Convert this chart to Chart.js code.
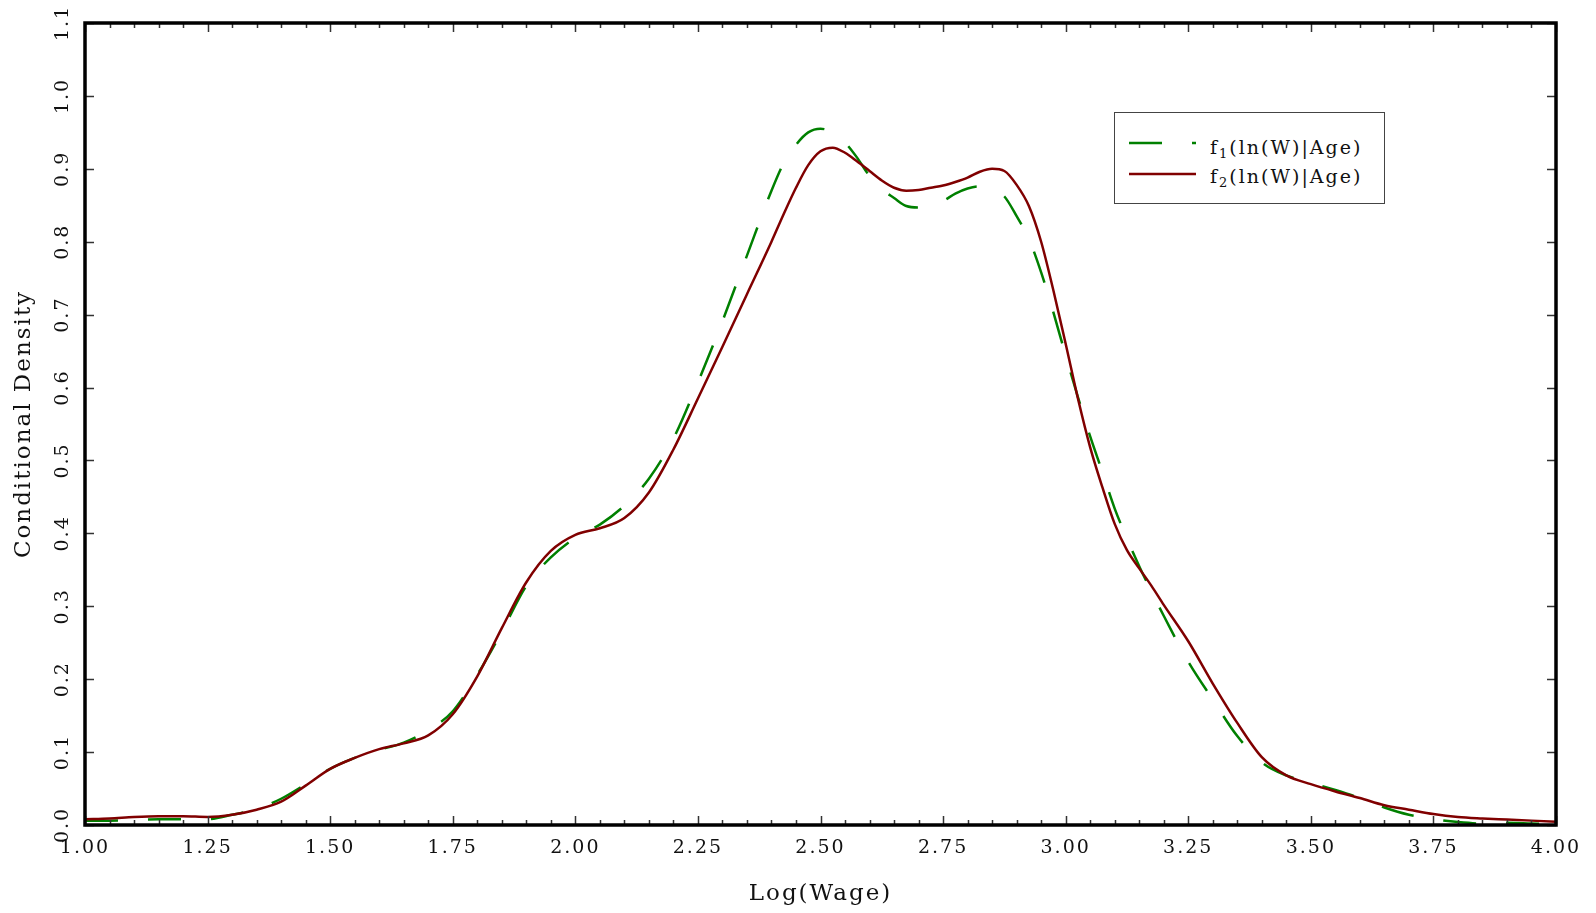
<!DOCTYPE html>
<html>
<head>
<meta charset="utf-8">
<script src="https://cdn.jsdelivr.net/npm/chart.js@4.4.0/dist/chart.umd.min.js"></script>
<style>
  html, body { margin: 0; padding: 0; background: #fff; }
  #wrap { position: relative; width: 1596px; height: 913px; }
  #legend {
    position: absolute; left: 1114px; top: 112px; width: 271px; height: 92px;
    border: 1px solid #444; background: #fff; box-sizing: border-box;
  }
  .item {
    position: absolute; left: 1210px; height: 20px; line-height: 20px;
    font-family: 'DejaVu Serif'; font-size: 19px; letter-spacing: 2px; color: #111;
    white-space: nowrap;
  }
  .item sub { font-size: 13px; vertical-align: -4px; line-height: 0; }
</style>
</head>
<body>
<div id="wrap">
  <canvas id="chart" width="1596" height="913"></canvas>
  <div id="legend"></div>
  <svg style="position:absolute;left:0;top:0" width="1596" height="913">
    <line x1="1129" y1="143" x2="1196" y2="143" stroke="#008000" stroke-width="2.5" stroke-dasharray="33 30"/>
    <line x1="1129" y1="174" x2="1196" y2="174" stroke="#800000" stroke-width="2.5"/>
  </svg>
  <div class="item" style="top:137px">f<sub>1</sub>(ln(W)|Age)</div>
  <div class="item" style="top:166px">f<sub>2</sub>(ln(W)|Age)</div>
</div>
<script>
// log wage grid (finer around the peaks)
const logWage = [
  1.00, 1.05, 1.10, 1.15, 1.20, 1.25, 1.30, 1.35, 1.40, 1.45,
  1.50, 1.55, 1.60, 1.65, 1.70, 1.75, 1.80, 1.85, 1.90, 1.95,
  2.00, 2.05, 2.10, 2.15, 2.20, 2.25, 2.30, 2.35, 2.40,
  2.425, 2.45, 2.475, 2.50, 2.525, 2.55, 2.575, 2.60, 2.625, 2.65,
  2.675, 2.70, 2.725, 2.75, 2.775, 2.80, 2.825, 2.85, 2.875, 2.90,
  2.925, 2.95, 2.975, 3.00, 3.025, 3.05, 3.075, 3.10, 3.125, 3.15,
  3.175, 3.20,
  3.25, 3.30, 3.35, 3.40, 3.45, 3.50, 3.55, 3.60, 3.65, 3.70,
  3.75, 3.80, 3.85, 3.90, 3.95, 4.00
];

// f1(ln(W)|Age) - green dashed
const f1 = [
  0.006, 0.006, 0.007, 0.008, 0.008, 0.008, 0.014, 0.022, 0.036, 0.056,
  0.077, 0.092, 0.103, 0.113, 0.130, 0.156, 0.206, 0.265, 0.328, 0.367,
  0.394, 0.412, 0.438, 0.475, 0.530, 0.607, 0.691, 0.781, 0.870,
  0.908, 0.933, 0.950, 0.955, 0.950, 0.936, 0.915, 0.890, 0.872, 0.860,
  0.849, 0.847, 0.850, 0.856, 0.866, 0.873, 0.876, 0.872, 0.862, 0.835,
  0.804, 0.758, 0.703, 0.644, 0.587, 0.533, 0.484, 0.434, 0.393, 0.355,
  0.320, 0.287,
  0.224, 0.172, 0.122, 0.086, 0.068, 0.058, 0.048, 0.037, 0.024, 0.014,
  0.008, 0.004, 0.002, 0.003, 0.002, 0.001
];

// f2(ln(W)|Age) - dark red solid
const f2 = [
  0.008, 0.009, 0.011, 0.012, 0.012, 0.011, 0.014, 0.021, 0.032, 0.054,
  0.077, 0.092, 0.104, 0.112, 0.123, 0.152, 0.204, 0.270, 0.333, 0.376,
  0.398, 0.407, 0.421, 0.456, 0.515, 0.585, 0.656, 0.728, 0.800,
  0.838, 0.874, 0.905, 0.924, 0.929, 0.922, 0.910, 0.897, 0.884, 0.874,
  0.870, 0.871, 0.874, 0.877, 0.882, 0.888, 0.896, 0.900, 0.897, 0.878,
  0.849, 0.800, 0.733, 0.660, 0.585, 0.518, 0.463, 0.413, 0.377, 0.352,
  0.328, 0.302,
  0.252, 0.194, 0.140, 0.093, 0.068, 0.056, 0.046, 0.037, 0.027, 0.021,
  0.015, 0.011, 0.009, 0.0075, 0.006, 0.0045
];

const FONT = 'DejaVu Serif';
const TEXT = '#111';

const isQuarter = v => Math.abs(v * 4 - Math.round(v * 4)) < 1e-6;
const pts = ys => logWage.map((x, i) => ({ x, y: ys[i] }));

// inward ticks on all four sides, heavy frame, rotated y labels
const framePlugin = {
  id: 'frame',
  beforeLayout(chart) { chart.ctx.letterSpacing = '2px'; },
  beforeDraw(chart) { chart.ctx.letterSpacing = '2px'; },
  afterDraw(chart) {
    const { ctx, chartArea: a, scales: { x, y } } = chart;
    ctx.save();
    ctx.strokeStyle = '#333';
    ctx.lineWidth = 1.5;
    ctx.beginPath();
    x.ticks.forEach(t => {
      const px = Math.round(x.getPixelForValue(t.value)) + 0.5;
      const len = isQuarter(t.value) ? 9 : 5;
      ctx.moveTo(px, a.bottom); ctx.lineTo(px, a.bottom - len);
      ctx.moveTo(px, a.top); ctx.lineTo(px, a.top + len);
    });
    y.ticks.forEach(t => {
      const py = Math.round(y.getPixelForValue(t.value)) + 0.5;
      ctx.moveTo(a.left, py); ctx.lineTo(a.left + 9, py);
      ctx.moveTo(a.right, py); ctx.lineTo(a.right - 9, py);
    });
    ctx.stroke();

    ctx.strokeStyle = '#000';
    ctx.lineWidth = 3.5;
    ctx.strokeRect(a.left, a.top, a.right - a.left, a.bottom - a.top);

    ctx.fillStyle = TEXT;
    ctx.font = '19px "' + FONT + '"';
    ctx.textAlign = 'center';
    ctx.textBaseline = 'middle';
    y.ticks.forEach(t => {
      ctx.save();
      ctx.translate(63, y.getPixelForValue(t.value));
      ctx.rotate(-Math.PI / 2);
      ctx.fillText(t.value.toFixed(1), 0, 0);
      ctx.restore();
    });
    ctx.restore();
  }
};

new Chart(document.getElementById('chart'), {
  type: 'line',
  data: {
    datasets: [
      {
        label: 'f2(ln(W)|Age)',
        data: pts(f2),
        borderColor: '#800000',
        borderWidth: 2.5,
        pointRadius: 0,
        cubicInterpolationMode: 'monotone',
        fill: false
      },
      {
        label: 'f1(ln(W)|Age)',
        data: pts(f1),
        borderColor: '#008000',
        borderWidth: 2.5,
        borderDash: [33, 30],
        pointRadius: 0,
        cubicInterpolationMode: 'monotone',
        fill: false
      }
    ]
  },
  options: {
    responsive: false,
    animation: false,
    events: [],
    layout: { padding: { top: 23, right: 40, left: 0, bottom: 0 } },
    plugins: {
      legend: { display: false },
      tooltip: { enabled: false }
    },
    scales: {
      x: {
        type: 'linear',
        min: 1,
        max: 4,
        grid: { display: false, drawTicks: false },
        border: { display: false },
        ticks: {
          stepSize: 0.05,
          autoSkip: false,
          maxRotation: 0,
          minRotation: 0,
          padding: 12,
          color: TEXT,
          font: { family: FONT, size: 19 },
          callback: v => isQuarter(v) ? v.toFixed(2) : ''
        },
        title: {
          display: true,
          text: 'Log(Wage)',
          color: TEXT,
          font: { family: FONT, size: 23 },
          padding: { top: 5, bottom: 5 }
        },
        afterFit: s => { s.height = 88; }
      },
      y: {
        min: 0,
        max: 1.1,
        grid: { display: false, drawTicks: false },
        border: { display: false },
        ticks: { stepSize: 0.1, display: false },
        title: {
          display: true,
          text: 'Conditional Density',
          color: TEXT,
          font: { family: FONT, size: 23 },
          padding: { top: 10, bottom: 10 }
        },
        afterFit: s => { s.width = 85; }
      }
    }
  },
  plugins: [framePlugin]
});
</script>
</body>
</html>
